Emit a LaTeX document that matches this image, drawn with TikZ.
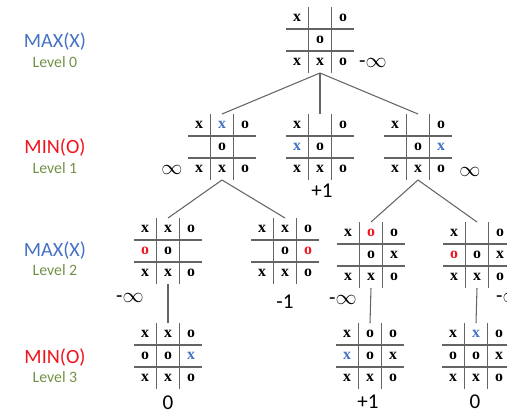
\documentclass[tikz,border=0pt]{standalone}
\usepackage{fontspec}
\setmainfont{Carlito}
\newfontfamily\cellfont{Liberation Serif}
\usetikzlibrary{positioning,calc}

\definecolor{maxblue}{RGB}{68,114,196}
\definecolor{minred}{RGB}{240,20,30}
\definecolor{lvlgreen}{RGB}{112,146,70}
\definecolor{gridgray}{RGB}{100,100,100}

\newcommand{\bx}{\textcolor{maxblue}{x}}
\newcommand{\ro}{\textcolor{minred}{o}}

\tikzset{
	boardbox/.style={minimum width=1.36cm, minimum height=1.32cm, inner sep=0pt, outer sep=0pt},
	gridline/.style={gridgray, line width=0.8pt},
	cell/.style={font=\cellfont\bfseries\fontsize{9}{9}\selectfont, inner sep=0pt},
	edge/.style={gridgray, line width=0.6pt},
	val/.style={font=\fontsize{12}{12}\selectfont, inner sep=0pt},
	maxlbl/.style={maxblue, font=\fontsize{11.5}{12}\selectfont, inner sep=0pt},
	minlbl/.style={minred, font=\fontsize{11.5}{12}\selectfont, inner sep=0pt},
	lvl/.style={lvlgreen, font=\fontsize{9}{9}\selectfont, inner sep=0pt}
}

% one tic-tac-toe board: name, centre, nine cells
\newcommand{\board}[3]{%
	\node[boardbox] (#1) at (#2) {};
	\draw[gridline] ($(#1.north)+(-11.5,0)$) -- ++(0,66)
	($(#1.north)+(11.5,0)$) -- ++(0,66)
	($(#1.west)+(0,-11)$) -- ++(68,0)
	($(#1.west)+(0,11)$) -- ++(68,0);
	\foreach \c [count=\i from 0] in {#3} {
		\pgfmathtruncatemacro{\row}{\i/3}
		\pgfmathtruncatemacro{\col}{mod(\i,3)}
		\node[cell] (#1-\i) at ($(#1)+(\col*23-23,\row*22-22)$) {\c};
	}
}

\begin{document}
\begin{tikzpicture}[x=0.02cm, y=-0.02cm]
	\useasboundingbox (0,0) rectangle (507,414);
	\clip (0,0) rectangle (507,414);

% LEVEL LABELS
	\node[maxlbl] (max0) at (55,42) {MAX(X)};
	\node[lvl, below=3pt of max0] (lev0) {Level 0};
	\node[minlbl] (min1) at (55,148) {MIN(O)};
	\node[lvl, below=3pt of min1] (lev1) {Level 1};
	\node[maxlbl] (max2) at (55,250) {MAX(X)};
	\node[lvl, below=3pt of max2] (lev2) {Level 2};
	\node[minlbl] (min3) at (55,357) {MIN(O)};
	\node[lvl, below=3pt of min3] (lev3) {Level 3};

% BOARDS
	\board{root}{320,40}{x,{},o,{},o,{},x,x,o}

	\board{l1a}{222,147}{x,\bx,o,{},o,{},x,x,o}
	\board{l1b}{320,147}{x,{},o,\bx,o,{},x,x,o}
	\board{l1c}{418,147}{x,{},o,{},o,\bx,x,x,o}

	\board{l2a}{168,251}{x,x,o,\ro,o,{},x,x,o}
	\board{l2b}{285,251}{x,x,o,{},o,\ro,x,x,o}
	\board{l2c}{371,255}{x,\ro,o,{},o,x,x,x,o}
	\board{l2d}{477,255}{x,{},o,\ro,o,x,x,x,o}

	\board{l3a}{168,356}{x,x,o,o,o,\bx,x,x,o}
	\board{l3b}{370,356}{x,o,o,\bx,o,x,x,x,o}
	\board{l3c}{476,356}{x,\bx,o,o,o,x,x,x,o}

% TREE EDGES
	\draw[edge] (root.south) -- (l1a.north);
	\draw[edge] (root.south) -- (l1b.north);
	\draw[edge] (root.south) -- (l1c.north);
	\draw[edge] (l1a.south) -- (l2a.north);
	\draw[edge] (l1a.south) -- (l2b.north);
	\draw[edge] (l1c.south) -- (l2c.north);
	\draw[edge] (l1c.south) -- (l2d.north);
	\draw[edge] (l2a.south) -- (l3a.north);
	\draw[edge] (l2c.south) -- (l3b.north);
	\draw[edge] (l2d.south) -- (l3c.north);

% VALUES
	\node[val] (v0) at (373,63) {-$\infty$};
	\node[val] (v1a) at (172,170) {$\infty$};
	\node[val] (v1b) at (322,191) {+1};
	\node[val] (v1c) at (470,172) {$\infty$};
	\node[val] (v2a) at (130,298) {-$\infty$};
	\node[val] (v2b) at (285,302) {-1};
	\node[val] (v2c) at (343,300) {-$\infty$};
	\node[val] (v2d) at (510,298) {-$\infty$};
	\node[val] (v3a) at (168,403) {0};
	\node[val] (v3b) at (368,402) {+1};
	\node[val] (v3c) at (475,402) {0};
\end{tikzpicture}
\end{document}
